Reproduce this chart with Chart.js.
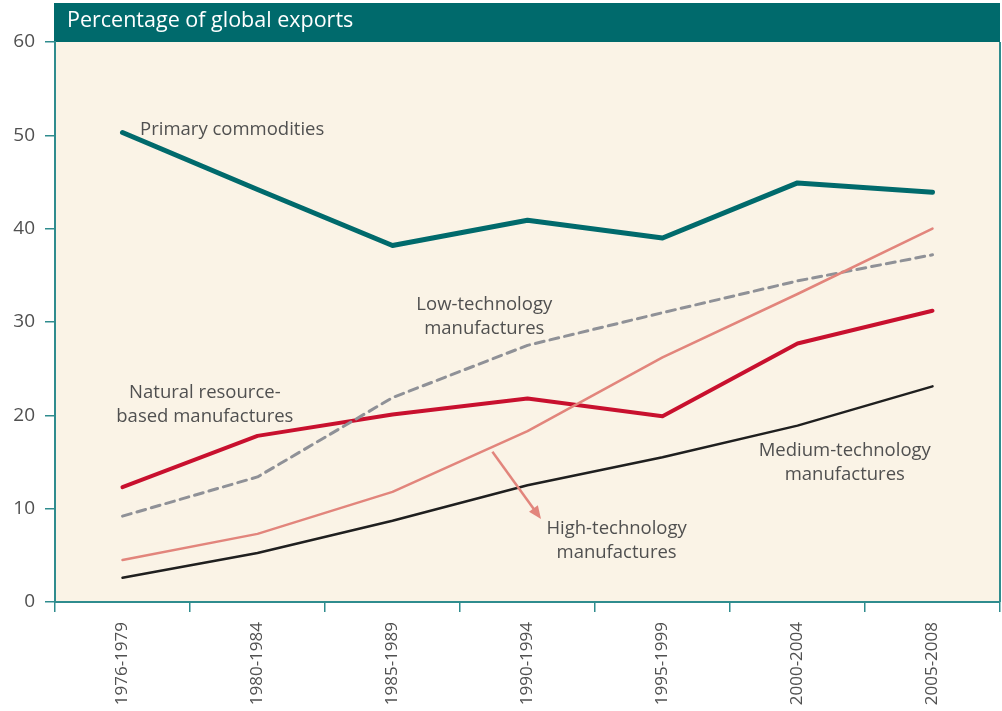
<!DOCTYPE html>
<html>
<head>
<meta charset="utf-8">
<script src="https://cdn.jsdelivr.net/npm/chart.js@4.4.1/dist/chart.umd.min.js"></script>
<style>
  html, body { margin: 0; padding: 0; background: #ffffff; }
  #wrap { width: 1002px; height: 711px; position: relative; }
</style>
</head>
<body>
<div id="wrap"><canvas id="exportsChart" width="1002" height="711"></canvas></div>
<script>
// Share of global exports by product group
const periods = ['1976-1979', '1980-1984', '1985-1989', '1990-1994', '1995-1999', '2000-2004', '2005-2008'];
const primaryCommodities = [50.3, 44.2, 38.2, 40.9, 39.0, 44.9, 43.9];
const lowTech = [9.2, 13.4, 21.9, 27.5, 31.0, 34.4, 37.2];
const naturalResource = [12.3, 17.8, 20.1, 21.8, 19.9, 27.7, 31.2];
const highTech = [4.5, 7.3, 11.8, 18.3, 26.2, 33.0, 40.0];
const mediumTech = [2.6, 5.25, 8.7, 12.5, 15.5, 18.9, 23.1];
const yTicks = [0, 10, 20, 30, 40, 50, 60];

const TEAL = '#006a6c';
const AXIS = '#2f8c8e';
const TEXT = '#505050';
const FONT = '"Open Sans", "Noto Sans", sans-serif';

// in-chart labels, anchored in data space (category index, value)
const seriesLabels = [
  { lines: ['Primary commodities'], x: 0.13, y: 50.6, align: 'left' },
  { lines: ['Low-technology', 'manufactures'], x: 2.68, y: 31.9, align: 'center' },
  { lines: ['Natural resource-', 'based manufactures'], x: 0.61, y: 22.4, align: 'center' },
  { lines: ['Medium-technology', 'manufactures'], x: 5.35, y: 16.2, align: 'center' },
  { lines: ['High-technology', 'manufactures'], x: 3.66, y: 7.9, align: 'center' }
];
const highTechArrow = { from: [2.74, 16.1], to: [3.1, 8.9] };

const decorPlugin = {
  id: 'decor',
  beforeDraw(chart) {
    const { ctx, chartArea } = chart;
    ctx.save();
    ctx.fillStyle = '#faf3e6';
    ctx.fillRect(chartArea.left, chartArea.top, chartArea.right - chartArea.left, chartArea.bottom - chartArea.top);
    // header bar
    ctx.fillStyle = TEAL;
    ctx.fillRect(chartArea.left - 1, 3, chartArea.right - chartArea.left + 1, chartArea.top - 3);
    ctx.fillStyle = '#ffffff';
    ctx.font = '21.5px ' + FONT;
    ctx.textBaseline = 'middle';
    ctx.textAlign = 'left';
    ctx.fillText('Percentage of global exports', chartArea.left + 12, 21);
    // right border
    ctx.strokeStyle = AXIS;
    ctx.lineWidth = 2;
    ctx.beginPath();
    ctx.moveTo(chartArea.right, chartArea.top);
    ctx.lineTo(chartArea.right, chartArea.bottom);
    ctx.stroke();
    ctx.restore();
  },
  afterDatasetsDraw(chart) {
    const { ctx, scales } = chart;
    const xs = scales.x;
    const ys = scales.y;
    ctx.save();
    ctx.fillStyle = TEXT;
    ctx.font = '18.5px ' + FONT;
    ctx.textBaseline = 'middle';
    seriesLabels.forEach((lab) => {
      ctx.textAlign = lab.align;
      const px = xs.getPixelForValue(lab.x);
      const py = ys.getPixelForValue(lab.y);
      lab.lines.forEach((line, i) => {
        ctx.fillText(line, px, py + i * 24);
      });
    });

    const x1 = xs.getPixelForValue(highTechArrow.from[0]);
    const y1 = ys.getPixelForValue(highTechArrow.from[1]);
    const x2 = xs.getPixelForValue(highTechArrow.to[0]);
    const y2 = ys.getPixelForValue(highTechArrow.to[1]);
    const ang = Math.atan2(y2 - y1, x2 - x1);
    ctx.strokeStyle = '#e2857c';
    ctx.fillStyle = '#e2857c';
    ctx.lineWidth = 2.5;
    ctx.beginPath();
    ctx.moveTo(x1, y1);
    ctx.lineTo(x2 - 8 * Math.cos(ang), y2 - 8 * Math.sin(ang));
    ctx.stroke();
    ctx.beginPath();
    ctx.moveTo(x2, y2);
    ctx.lineTo(x2 - 14 * Math.cos(ang - 0.4), y2 - 14 * Math.sin(ang - 0.4));
    ctx.lineTo(x2 - 14 * Math.cos(ang + 0.4), y2 - 14 * Math.sin(ang + 0.4));
    ctx.closePath();
    ctx.fill();
    ctx.restore();
  }
};

function lineSet(label, data, color, width, dash) {
  return {
    label,
    data,
    borderColor: color,
    backgroundColor: color,
    borderWidth: width,
    borderDash: dash || [],
    borderCapStyle: 'round',
    borderJoinStyle: 'round',
    pointRadius: 0,
    tension: 0,
    fill: false
  };
}

new Chart(document.getElementById('exportsChart'), {
  type: 'line',
  data: {
    labels: periods,
    datasets: [
      lineSet('Medium-technology manufactures', mediumTech, '#1f1f1f', 2.5),
      lineSet('High-technology manufactures', highTech, '#e2857c', 2.5),
      lineSet('Low-technology manufactures', lowTech, '#8f9197', 3, [9, 6]),
      lineSet('Natural resource-based manufactures', naturalResource, '#c8102e', 4),
      lineSet('Primary commodities', primaryCommodities, TEAL, 5)
    ]
  },
  options: {
    responsive: false,
    animation: false,
    layout: { padding: { top: 42, right: 2, left: 0, bottom: 0 } },
    plugins: {
      legend: { display: false },
      tooltip: { enabled: false }
    },
    scales: {
      x: {
        offset: true,
        grid: {
          offset: true,
          drawOnChartArea: false,
          drawTicks: true,
          tickLength: 10,
          color: AXIS,
          lineWidth: 1.5
        },
        border: { color: AXIS, width: 2 },
        ticks: {
          minRotation: 90,
          maxRotation: 90,
          padding: 10,
          color: TEXT,
          font: { family: FONT, size: 17 }
        },
        afterFit(scale) { scale.height = 109; }
      },
      y: {
        min: 0,
        max: 60,
        afterBuildTicks(scale) { scale.ticks = yTicks.map((v) => ({ value: v })); },
        grid: {
          drawOnChartArea: false,
          drawTicks: true,
          tickLength: 10,
          color: AXIS,
          lineWidth: 1.5
        },
        border: { color: AXIS, width: 2 },
        ticks: {
          padding: 10,
          color: TEXT,
          font: { family: FONT, size: 19 }
        },
        afterFit(scale) { scale.width = 55; }
      }
    }
  },
  plugins: [decorPlugin]
});
</script>
</body>
</html>
